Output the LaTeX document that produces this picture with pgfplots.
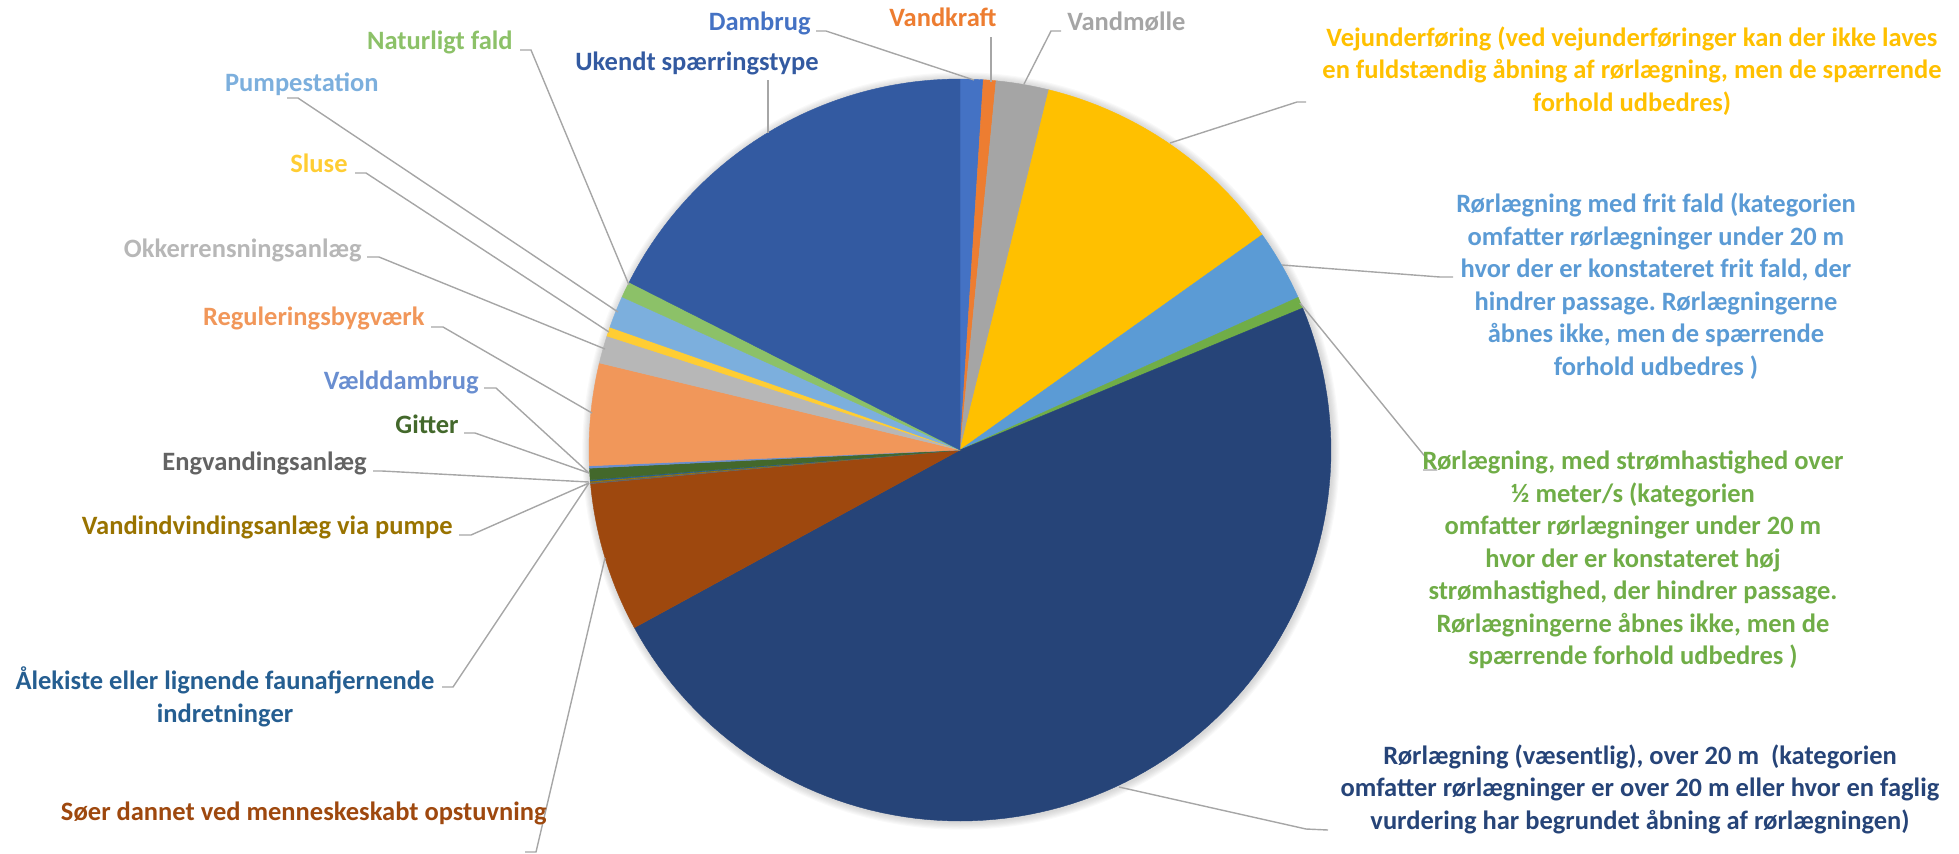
\documentclass[border=0pt]{standalone}
\usepackage{fontspec}
\setmainfont{Carlito}
\usepackage{pgfplots}
\pgfplotsset{compat=1.18}
\frenchspacing

\definecolor{c1}{HTML}{4472C4}
\definecolor{c2}{HTML}{ED7D31}
\definecolor{c3}{HTML}{A5A5A5}
\definecolor{c4}{HTML}{FFC000}
\definecolor{c5}{HTML}{5B9BD5}
\definecolor{c6}{HTML}{70AD47}
\definecolor{c7}{HTML}{264478}
\definecolor{c8}{HTML}{9E480E}
\definecolor{c9}{HTML}{636363}
\definecolor{c10}{HTML}{997300}
\definecolor{c11}{HTML}{255E91}
\definecolor{c12}{HTML}{43682B}
\definecolor{c13}{HTML}{698ED0}
\definecolor{c14}{HTML}{F1975A}
\definecolor{c15}{HTML}{B7B7B7}
\definecolor{c16}{HTML}{FFCD33}
\definecolor{c17}{HTML}{7CAFDD}
\definecolor{c18}{HTML}{8CC168}
\definecolor{c19}{HTML}{335AA1}
\definecolor{leader}{HTML}{A6A6A6}

\newcommand\lf{\fontsize{13.25}{16.25}\selectfont\bfseries\frenchspacing}

\begin{document}
\begin{tikzpicture}
\begin{axis}[scale only axis, width=979.5pt, height=426.5pt,
  xmin=0, xmax=1959, ymin=0, ymax=853, y dir=reverse,
  hide axis, clip=false]
\path (axis cs:0,0) rectangle (axis cs:1959,853);
% soft outer shadow of the pie
\pgfplotsinvokeforeach{1,...,7}{
  \fill[black, opacity=0.022] (axis cs:961,451) circle[radius={(371+1.1*#1)*0.5pt}];
}
% share of each barrier type (percent), clockwise from 12 o'clock
\xdef\cum{0}
\foreach \v/\c in {1.0/c1, 0.55/c2, 2.3/c3, 11.3/c4, 3.1/c5, 0.5/c6,
   48.3/c7, 6.5/c8, 0.06/c9, 0.05/c10, 0.06/c11, 0.5/c12, 0.1/c13,
   4.45/c14, 1.2/c15, 0.4/c16, 1.4/c17, 0.7/c18, 17.53/c19}{
  \pgfmathsetmacro\a{3.6*\cum}
  \pgfmathsetmacro\b{3.6*(\cum+\v)}
  \edef\temp{\noexpand\addplot[fill=\c, draw=\c, line width=0.2pt,
     domain=\a:\b, samples=100]
     ({960+371*sin(x)},{450-371*cos(x)}) -- (axis cs:960,450) -- cycle;}
  \temp
  \pgfmathsetmacro\newcum{\cum+\v}
  \xdef\cum{\newcum}
}

% leader lines
\begin{scope}[draw=leader, line width=0.7pt]
\draw (axis cs:816,31) -- (axis cs:826,31) -- (axis cs:974,80);
\draw (axis cs:991,37) -- (axis cs:991,82);
\draw (axis cs:1061,31) -- (axis cs:1051,31) -- (axis cs:1024,84);
\draw (axis cs:768,80) -- (axis cs:768,133);
\draw (axis cs:1306,102) -- (axis cs:1297,102) -- (axis cs:1170,143);
\draw (axis cs:1282,265) -- (axis cs:1440,277) -- (axis cs:1453,277);
\draw (axis cs:1300,303) -- (axis cs:1436,470) -- (axis cs:1423,470);
\draw (axis cs:1119,787) -- (axis cs:1306,829) -- (axis cs:1328,830);
\draw (axis cs:605,558) -- (axis cs:536,852) -- (axis cs:525,852);
\draw (axis cs:589,483) -- (axis cs:453,687) -- (axis cs:442,687);
\draw (axis cs:589,483) -- (axis cs:471,535) -- (axis cs:459,535);
\draw (axis cs:589,482) -- (axis cs:382,471) -- (axis cs:373,471);
\draw (axis cs:589,473) -- (axis cs:475,433) -- (axis cs:464,433);
\draw (axis cs:589,473) -- (axis cs:496,388) -- (axis cs:484,388);
\draw (axis cs:592,413) -- (axis cs:443,327) -- (axis cs:431,327);
\draw (axis cs:605,349) -- (axis cs:379,257) -- (axis cs:367,257);
\draw (axis cs:609,332) -- (axis cs:366,173) -- (axis cs:355,173);
\draw (axis cs:618,312) -- (axis cs:298,98) -- (axis cs:287,98);
\draw (axis cs:629,285) -- (axis cs:531,50) -- (axis cs:520,50);
\end{scope}

% labels
\node[anchor=base east, text=c1, font=\lf, inner sep=0pt] at (axis cs:811,30) {Dambrug};
\node[anchor=base, text=c2, font=\lf, inner sep=0pt] at (axis cs:943,26) {Vandkraft};
\node[anchor=base west, text=c3, font=\lf, inner sep=0pt] at (axis cs:1067,30) {Vandmølle};
\node[anchor=base west, text=c19, font=\lf, inner sep=0pt] at (axis cs:575,70) {Ukendt spærringstype};
\node[anchor=base east, text=c18, font=\lf, inner sep=0pt] at (axis cs:513,49) {Naturligt fald};
\node[anchor=base east, text=c17, font=\lf, inner sep=0pt] at (axis cs:379,91) {Pumpestation};
\node[anchor=base east, text=c16, font=\lf, inner sep=0pt] at (axis cs:348,172) {Sluse};
\node[anchor=base east, text=c15, font=\lf, inner sep=0pt] at (axis cs:362,257) {Okkerrensningsanlæg};
\node[anchor=base east, text=c14, font=\lf, inner sep=0pt] at (axis cs:425,325) {Reguleringsbygværk};
\node[anchor=base east, text=c13, font=\lf, inner sep=0pt] at (axis cs:479,389) {Vælddambrug};
\node[anchor=base east, text=c12, font=\lf, inner sep=0pt] at (axis cs:459,433) {Gitter};
\node[anchor=base east, text=c9, font=\lf, inner sep=0pt] at (axis cs:367,470) {Engvandingsanlæg};
\node[anchor=base east, text=c10, font=\lf, inner sep=0pt] at (axis cs:453,534) {Vandindvindingsanlæg via pumpe};
\node[anchor=center, text=c11, font=\lf, align=center, inner sep=0pt] at (axis cs:225,697) {Ålekiste eller lignende faunafjernende\\indretninger};
\node[anchor=base east, text=c8, font=\lf, inner sep=0pt] at (axis cs:547,820) {Søer dannet ved menneskeskabt opstuvning};

\node[anchor=center, text=c4, font=\lf, align=center, inner sep=0pt] at (axis cs:1632,71) {Vejunderføring (ved vejunderføringer kan der ikke laves\\en fuldstændig åbning af rørlægning, men de spærrende\\forhold udbedres)};
\node[anchor=center, text=c5, font=\lf, align=center, inner sep=0pt] at (axis cs:1656,286) {Rørlægning med frit fald (kategorien\\omfatter rørlægninger under 20 m\\hvor der er konstateret frit fald, der\\hindrer passage. Rørlægningerne\\åbnes ikke, men de spærrende\\forhold udbedres )};
\node[anchor=center, text=c6, font=\lf, align=center, inner sep=0pt] at (axis cs:1633,560) {Rørlægning, med strømhastighed over\\½ meter/s (kategorien\\omfatter rørlægninger under 20 m\\hvor der er konstateret høj\\strømhastighed, der hindrer passage.\\Rørlægningerne åbnes ikke, men de\\spærrende forhold udbedres )};
\node[anchor=center, text=c7, font=\lf, align=center, inner sep=0pt] at (axis cs:1640,789) {Rørlægning (væsentlig), over 20 m\ \ (kategorien\\omfatter rørlægninger er over 20 m eller hvor en faglig\\vurdering har begrundet åbning af rørlægningen)};
\end{axis}
\end{tikzpicture}
\end{document}
